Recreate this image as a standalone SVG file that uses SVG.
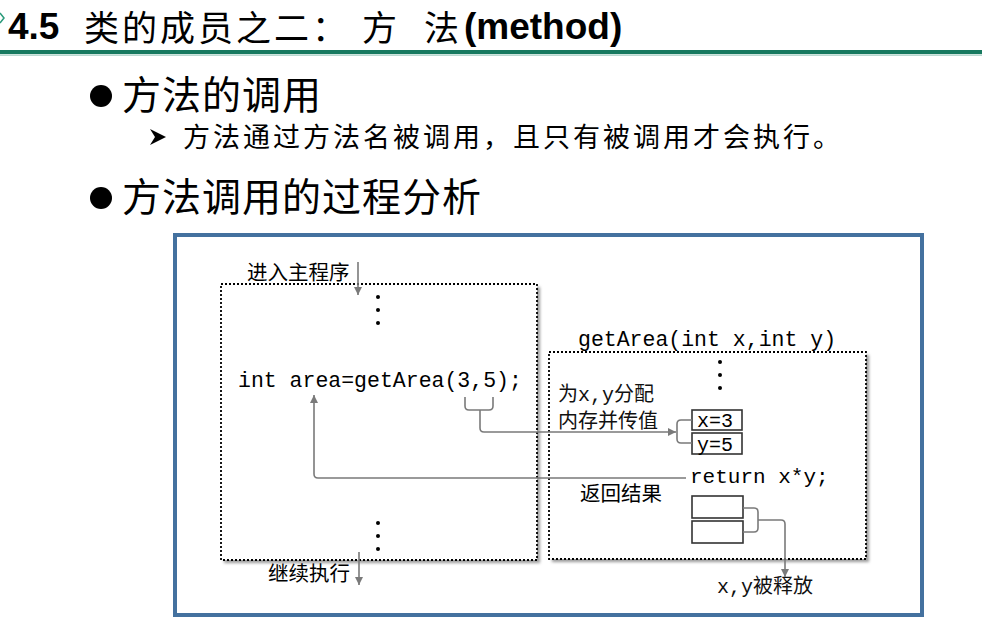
<svg xmlns="http://www.w3.org/2000/svg" width="982" height="632" viewBox="0 0 982 632">
  <style>
    .cjk { font-family: "Noto Sans CJK SC", "Liberation Sans", sans-serif; fill: #000; }
    .code { font-family: "Liberation Mono", "Noto Sans CJK SC", monospace; fill: #000; }
    .lbl { font-family: "Liberation Mono", "Noto Sans CJK SC", monospace; font-size: 20px; fill: #111; }
    .dotbox { fill: #fff; stroke: #000; stroke-width: 1.8; stroke-dasharray: 2 2; }
    .shadow { fill: #9a9a9a; filter: url(#soft); }
    .conn { fill: none; stroke: #7a7a7a; stroke-width: 1.6; }
    .cell { fill: #fff; stroke: #333; stroke-width: 1.6; }
    .dot { fill: #000; }
    .big { font-size: 39px; letter-spacing: 1px; }
  </style>
  <defs>
    <filter id="soft" x="-5%" y="-5%" width="110%" height="110%">
      <feGaussianBlur stdDeviation="1.5"/>
    </filter>
    <marker id="arr" markerWidth="10" markerHeight="10" refX="8" refY="4" orient="auto" markerUnits="userSpaceOnUse">
      <path d="M0,0 L8,4 L0,8 Z" fill="#7a7a7a"/>
    </marker>
  </defs>

  <rect width="982" height="632" fill="#fff"/>

  <!-- title bar -->
  <g id="title">
    <path d="M0,13 L4,18 L0,23" fill="none" stroke="#2a9a7a" stroke-width="1.5"/>
    <text x="8" y="39" font-family="Liberation Sans, sans-serif" font-weight="bold" font-size="37">4.5</text>
    <text x="84" y="41" class="cjk" font-size="35" letter-spacing="3">类的成员之二：</text>
    <text x="362" y="41" class="cjk" font-size="35">方</text>
    <text x="424" y="41" class="cjk" font-size="35">法</text>
    <text x="464" y="39" font-family="Liberation Sans, sans-serif" font-weight="bold" font-size="37">(method)</text>
    <rect x="0" y="50" width="982" height="4" fill="#17795f"/>
    <rect x="0" y="54.5" width="982" height="1.2" fill="#9cc8bb"/>
  </g>

  <!-- bullet list -->
  <g id="bullets">
    <circle cx="101" cy="96" r="11" fill="#000"/>
    <text x="122" y="109" class="cjk big">方法的调用</text>
    <path d="M150,129 L166,137 L150,145 L155,137 Z" fill="#000"/>
    <text x="183" y="147" class="cjk" font-size="27" letter-spacing="3">方法通过方法名被调用，且只有被调用才会执行。</text>
    <circle cx="101" cy="198" r="11" fill="#000"/>
    <text x="122" y="211" class="cjk big">方法调用的过程分析</text>
  </g>

  <!-- outer frame -->
  <rect id="frame" x="175" y="235" width="747" height="380" fill="#fff" stroke="#44719f" stroke-width="4"/>

  <!-- caller: main program -->
  <g id="main-program">
    <rect class="shadow" x="224" y="287" width="316" height="276"/>
    <rect class="dotbox" x="221" y="284" width="316" height="276"/>
    <text x="247" y="280" class="cjk" font-size="20.5">进入主程序</text>
    <circle class="dot" cx="378" cy="297" r="2"/>
    <circle class="dot" cx="378" cy="310" r="2"/>
    <circle class="dot" cx="378" cy="323" r="2"/>
    <text x="238" y="387" class="code" font-size="21.5">int area=getArea(3,5);</text>
    <circle class="dot" cx="378" cy="523" r="2"/>
    <circle class="dot" cx="378" cy="536" r="2"/>
    <circle class="dot" cx="378" cy="549" r="2"/>
    <text x="268" y="581" class="cjk" font-size="20.5">继续执行</text>
  </g>

  <!-- callee: getArea -->
  <g id="get-area">
    <rect class="shadow" x="552" y="355" width="317" height="207"/>
    <rect class="dotbox" x="549" y="352" width="317" height="207"/>
    <text x="578" y="346" class="code" font-size="21.5">getArea(int x,int y)</text>
    <circle class="dot" cx="720" cy="362" r="2"/>
    <circle class="dot" cx="720" cy="375" r="2"/>
    <circle class="dot" cx="720" cy="388" r="2"/>
    <text x="558" y="401" class="lbl">为x,y分配</text>
    <text x="558" y="428" class="lbl">内存并传值</text>
    <text x="690" y="483" class="code" font-size="21">return x*y;</text>
    <text x="580" y="501" class="cjk" font-size="20.5">返回结果</text>
  </g>

  <!-- parameter cells -->
  <g id="param-x">
    <rect class="cell" x="692" y="410" width="50" height="20"/>
    <text x="697" y="427" class="code" font-size="20">x=3</text>
  </g>
  <g id="param-y">
    <rect class="cell" x="692" y="433" width="50" height="21"/>
    <text x="697" y="451" class="code" font-size="20">y=5</text>
  </g>
  <g id="released-cells">
    <rect class="cell" x="692" y="496" width="51" height="22"/>
    <rect class="cell" x="692" y="521" width="51" height="22"/>
    <text x="717" y="593" class="lbl" font-size="21">x,y被释放</text>
  </g>

  <!-- connectors -->
  <g id="connectors">
    <path class="conn" d="M358,262 V295" marker-end="url(#arr)"/>
    <path class="conn" d="M359,552 V585" marker-end="url(#arr)"/>
    <path class="conn" d="M465,397 V406 Q465,410 469,410 H489 Q493,410 493,406 V397"/>
    <path class="conn" d="M480,410 V428 Q480,432 484,432 H676" marker-end="url(#arr)"/>
    <path class="conn" d="M692,420 H681 Q677,420 677,424 V439 Q677,443 681,443 H692"/>
    <path class="conn" d="M686,478 H318 Q314,478 314,474 V395" marker-end="url(#arr)"/>
    <path class="conn" d="M743,508 H754 Q758,508 758,512 V528 Q758,532 754,532 H743"/>
    <path class="conn" d="M758,520 H781 Q785,520 785,524 V577" marker-end="url(#arr)"/>
  </g>
</svg>
